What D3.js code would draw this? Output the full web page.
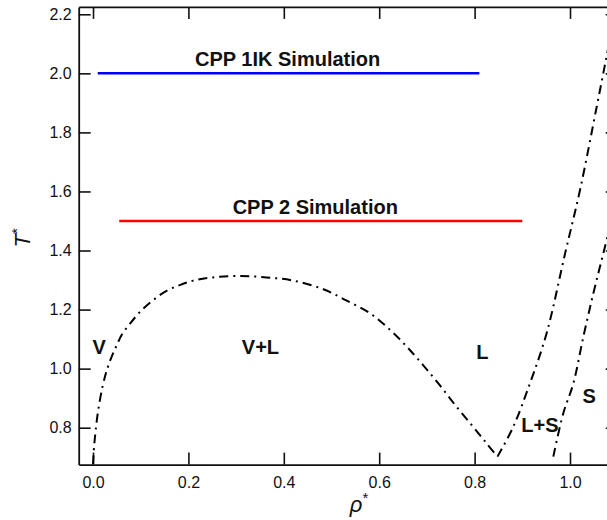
<!DOCTYPE html>
<html>
<head>
<meta charset="utf-8">
<script src="https://cdn.jsdelivr.net/npm/d3@7"></script>
<style>
  html, body { margin: 0; padding: 0; background: #fff; overflow: hidden; }
  svg { display: block; font-family: "Liberation Sans", Arial, sans-serif; }
</style>
</head>
<body>
<svg id="chart" width="607" height="520"></svg>
<script>
// Vapour-liquid coexistence curve (rho*, T*)
const coexRho = [0.000, 0.0025, 0.0057, 0.011, 0.020, 0.029, 0.039, 0.050, 0.060, 0.078, 0.099, 0.126, 0.155, 0.182, 0.210, 0.252, 0.308, 0.364, 0.420, 0.483, 0.532, 0.581, 0.623, 0.658, 0.692, 0.727, 0.762, 0.797, 0.825, 0.848];
const coexT   = [0.676, 0.740, 0.792, 0.860, 0.939, 0.995, 1.040, 1.080, 1.114, 1.153, 1.193, 1.232, 1.264, 1.283, 1.298, 1.309, 1.314, 1.309, 1.298, 1.269, 1.230, 1.187, 1.131, 1.074, 1.012, 0.944, 0.871, 0.803, 0.747, 0.702];

// Freezing line (liquid side of L+S)
const freezeRho = [0.848, 0.881, 0.916, 0.951, 0.990, 1.021, 1.056, 1.077, 1.097];
const freezeT   = [0.702, 0.803, 0.950, 1.120, 1.392, 1.605, 1.887, 2.060, 2.225];

// Melting line (solid side of L+S)
const meltRho = [0.965, 0.986, 1.007, 1.028, 1.049, 1.069, 1.090];
const meltT   = [0.702, 0.849, 0.950, 1.108, 1.255, 1.385, 1.520];

// Simulation isotherms
const simNames = ["CPP 1IK Simulation", "CPP 2 Simulation"];
const simT     = [2.0, 1.5];
const simStart = [0.010, 0.055];
const simEnd   = [0.810, 0.900];
const simLabelRho = [0.408, 0.466];
const simColors = ["#0000ff", "#ff0000"];

// Phase region labels
const regionNames = ["V", "V+L", "L", "L+S", "S"];
const regionRho   = [0.013, 0.351, 0.816, 0.937, 1.040];
const regionT     = [1.05, 1.05, 1.033, 0.785, 0.882];

const xTicks = [0.0, 0.2, 0.4, 0.6, 0.8, 1.0];
const yTicks = [0.8, 1.0, 1.2, 1.4, 1.6, 1.8, 2.0, 2.2];

const svg = d3.select("#chart");
const plotLeft = 78.7, plotTop = 6.9, plotRight = 617.7, plotBottom = 464.6;

const x = d3.scaleLinear().domain([-0.03, 1.1]).range([plotLeft, plotRight]);
const y = d3.scaleLinear().domain([0.675, 2.225]).range([plotBottom, plotTop]);

const fmt = d3.format(".1f");

// Axes: ticks point inward on all four sides
function styleAxis(g) {
  g.selectAll("path.domain").attr("stroke", "#111").attr("stroke-width", 1.8);
  g.selectAll(".tick line").attr("stroke", "#111").attr("stroke-width", 1.6);
  g.selectAll(".tick text").attr("fill", "#111").attr("font-size", 16)
    .attr("font-family", "'Liberation Sans', Arial, sans-serif");
}

svg.append("g").attr("transform", `translate(0,${plotBottom})`)
  .call(d3.axisBottom(x).tickValues(xTicks).tickFormat(fmt).tickSizeInner(-12).tickSizeOuter(0).tickPadding(12))
  .call(styleAxis);
svg.append("g").attr("transform", `translate(0,${plotTop})`)
  .call(d3.axisTop(x).tickValues(xTicks).tickFormat("").tickSizeInner(-12).tickSizeOuter(0))
  .call(styleAxis);
svg.append("g").attr("transform", `translate(${plotLeft},0)`)
  .call(d3.axisLeft(y).tickValues(yTicks).tickFormat(fmt).tickSizeInner(-12).tickSizeOuter(0).tickPadding(7))
  .call(styleAxis);
svg.append("g").attr("transform", `translate(${plotRight},0)`)
  .call(d3.axisRight(y).tickValues(yTicks).tickFormat("").tickSizeInner(-12).tickSizeOuter(0))
  .call(styleAxis);

// Phase boundaries (dash-dot)
const line = d3.line().x(d => x(d[0])).y(d => y(d[1])).curve(d3.curveCatmullRom.alpha(0.5));
const boundaries = [
  d3.zip(coexRho, coexT),
  d3.zip(freezeRho, freezeT),
  d3.zip(meltRho, meltT)
];
svg.append("defs").append("clipPath").attr("id", "plotclip")
  .append("rect").attr("x", plotLeft).attr("y", plotTop)
  .attr("width", plotRight - plotLeft).attr("height", plotBottom - plotTop);

svg.append("g").attr("clip-path", "url(#plotclip)")
  .selectAll("path").data(boundaries).join("path")
  .attr("d", line)
  .attr("fill", "none")
  .attr("stroke", "#000")
  .attr("stroke-width", 2)
  .attr("stroke-dasharray", "9,5,2,5");

// Simulation isotherms
svg.append("g").selectAll("line").data(simT).join("line")
  .attr("x1", (d, i) => x(simStart[i]))
  .attr("x2", (d, i) => x(simEnd[i]))
  .attr("y1", d => y(d))
  .attr("y2", d => y(d))
  .attr("stroke", (d, i) => simColors[i])
  .attr("stroke-width", 2.5);

svg.append("g").selectAll("text").data(simNames).join("text")
  .attr("x", (d, i) => x(simLabelRho[i]))
  .attr("y", (d, i) => y(simT[i]) - 7)
  .attr("text-anchor", "middle")
  .attr("font-weight", "bold")
  .attr("font-size", 20)
  .attr("fill", "#111")
  .text(d => d);

// Region labels
svg.append("g").selectAll("text").data(regionNames).join("text")
  .attr("x", (d, i) => x(regionRho[i]))
  .attr("y", (d, i) => y(regionT[i]))
  .attr("text-anchor", "middle")
  .attr("font-weight", "bold")
  .attr("font-size", 20)
  .attr("fill", "#111")
  .text(d => d);

// Axis titles
const yTitle = svg.append("text")
  .attr("transform", `translate(30,${(plotTop + plotBottom) / 2 + 2}) rotate(-90)`)
  .attr("text-anchor", "middle")
  .attr("font-size", 22)
  .attr("fill", "#111");
yTitle.append("tspan").attr("font-style", "italic").text("T");
yTitle.append("tspan").attr("font-size", 15).attr("dy", -8).text("*");

const xTitle = svg.append("text")
  .attr("x", 359).attr("y", 512)
  .attr("text-anchor", "middle")
  .attr("font-size", 22)
  .attr("fill", "#111");
xTitle.append("tspan").attr("font-style", "italic").text("ρ");
xTitle.append("tspan").attr("font-size", 15).attr("dy", -9).text("*");
</script>
</body>
</html>
